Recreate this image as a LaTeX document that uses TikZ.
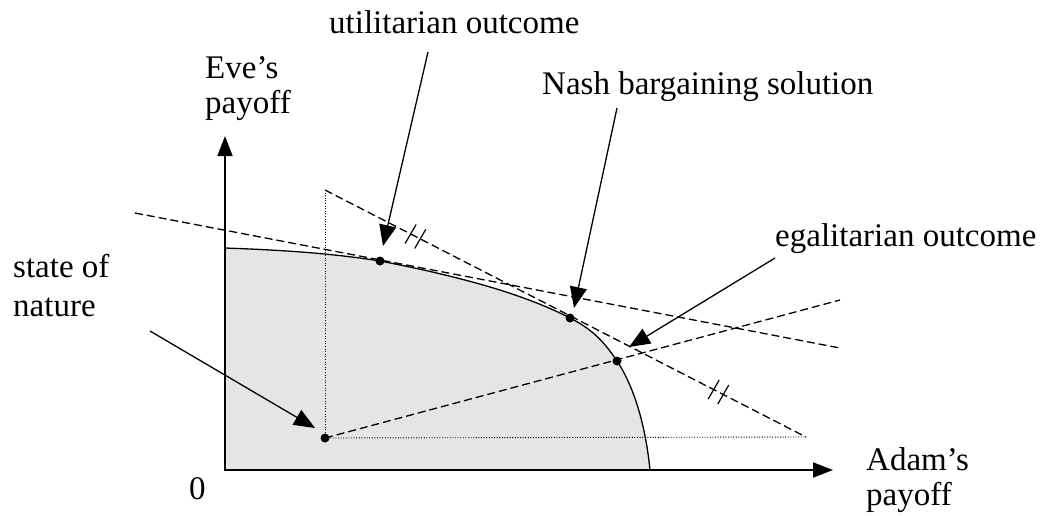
\documentclass[tikz,border=0pt]{standalone}
\usepackage{fontspec}
\setmainfont{Liberation Serif}
\usetikzlibrary{arrows.meta,calc}
\begin{document}
\begin{tikzpicture}[x=1pt,y=-1pt,
  lbl/.style={font=\fontsize{33}{35}\selectfont, inner sep=0pt, align=left},
  pointer/.style={line width=1.3pt, -{Triangle[length=21pt,width=17pt]}},
  axisline/.style={line width=1.8pt},
  guide/.style={line width=1.3pt, dash pattern=on 8pt off 4pt},
  dots/.style={line width=0.9pt, dash pattern=on 1pt off 1.6pt},
  dot/.style={circle, fill=black, inner sep=0pt, minimum size=9pt},
  hash/.style={line width=1.2pt}]
\useasboundingbox (0,0) rectangle (1051,515);

% key points
\coordinate (O) at (225,470);
\coordinate (ytop) at (225,136);
\coordinate (xend) at (833,470);
\coordinate (F0) at (225,248);
\coordinate (F1) at (650,470);
\coordinate (C1) at (325,190);
\coordinate (C2) at (806,437);
\coordinate (T1) at (135,213);
\coordinate (T2) at (840,348);
\coordinate (G2) at (840,300);

% feasible set
\fill[gray!20] (F0) .. controls (280,250) and (330,253) .. (380,261)
  .. controls (450,274.5) and (520,292) .. (570,318)
  .. controls (590,328.3) and (602,338.5) .. (617,361)
  .. controls (632,383.5) and (645,420) .. (F1) -- (O) -- cycle;
\draw[line width=1.3pt] (F0) .. controls (280,250) and (330,253) .. (380,261)
  .. controls (450,274.5) and (520,292) .. (570,318)
  .. controls (590,328.3) and (602,338.5) .. (617,361)
  .. controls (632,383.5) and (645,420) .. (F1);

% points
\node[dot] (U) at (380,261) {};
\node[dot] (N) at (570,318) {};
\node[dot] (E) at (617,361) {};
\node[dot] (S) at (325,438) {};

% dotted guides
\draw[dots] (S.center) -- (C1);
\draw[dots] (S.center) -- (C2);

% dashed lines
\draw[guide] (C1) -- (C2);
\draw[guide] (T1) -- (T2);
\draw[guide] (S.center) -- (G2);

% hash marks
\coordinate (H1a) at ($(C1)!0.178!(C2)$);
\coordinate (H1b) at ($(C1)!0.198!(C2)$);
\coordinate (H2a) at ($(C1)!0.808!(C2)$);
\coordinate (H2b) at ($(C1)!0.828!(C2)$);
\foreach \h in {H1a,H1b,H2a,H2b}{
  \draw[hash] ($(\h)+(-5.5,9.5)$) -- ($(\h)+(5.5,-9.5)$);
}

% axes
\draw[axisline, {Triangle[length=20pt,width=15pt]}-{Triangle[length=20pt,width=15pt]}] (ytop) -- (O) -- (xend);

% labels (base anchor = baseline of the last line)
\node[lbl, anchor=base west] (eve) at (205,113) {Eve's\\payoff};
\node[lbl, anchor=base west] (adam) at (866,505) {Adam's\\payoff};
\node[lbl, anchor=base west] (zero) at (189,499) {0};
\node[lbl, anchor=base west] (nat) at (13,316) {state of\\[4pt]nature};
\node[lbl, anchor=base west] (ut) at (329,33) {utilitarian outcome};
\node[lbl, anchor=base west] (nb) at (542,94) {Nash bargaining solution};
\node[lbl, anchor=base west] (eg) at (775,246) {egalitarian outcome};

% pointer arrows
\coordinate (utA) at (428,52);
\coordinate (utB) at (383,246);
\coordinate (nbA) at (617,108);
\coordinate (nbB) at (574,308);
\coordinate (egA) at (775,258);
\coordinate (egB) at (629,347);
\coordinate (natA) at (150,331);
\coordinate (natB) at (315,428);
\draw[pointer] (utA) -- (utB);
\draw[pointer] (nbA) -- (nbB);
\draw[pointer] (egA) -- (egB);
\draw[pointer] (natA) -- (natB);
\end{tikzpicture}
\end{document}
